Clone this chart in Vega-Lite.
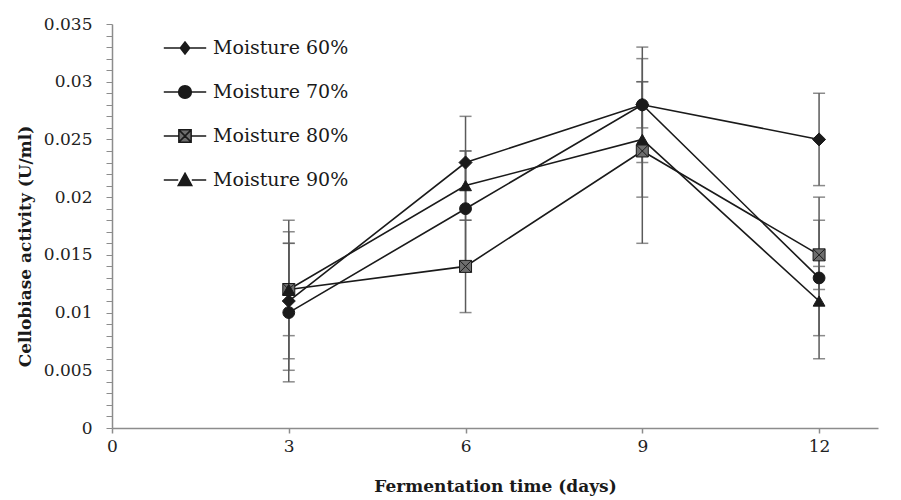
{
  "$schema": "https://vega.github.io/schema/vega-lite/v6.json",
  "width": 766,
  "height": 404,
  "autosize": {"type": "none"},
  "padding": {"left": 112, "top": 24, "right": 23, "bottom": 72},
  "background": "white",
  "config": {
    "view": {"stroke": null},
    "font": "DejaVu Serif",
    "axis": {"grid": false, "labelFont": "DejaVu Serif", "labelFontSize": 17, "labelColor": "#222222", "labelFlush": false, "labelOverlap": false,
      "titleFont": "DejaVu Serif", "titleFontWeight": "bold", "titleFontSize": 17, "titleColor": "#1a1a1a",
      "domainColor": "#8c8c8c", "domainWidth": 1.5, "tickColor": "#8c8c8c"},
    "axisX": {"tickSize": 5, "tickWidth": 1.5, "labelPadding": 5, "titlePadding": 24},
    "axisY": {"tickSize": 6, "tickWidth": 1, "labelPadding": 14, "titlePadding": 9}
  },
  "data": {
    "values": [
      {"series": "Moisture 60%", "day": 3, "value": 0.011, "lo": 0.004, "hi": 0.018},
      {"series": "Moisture 60%", "day": 6, "value": 0.023, "lo": 0.019, "hi": 0.027},
      {"series": "Moisture 60%", "day": 9, "value": 0.028, "lo": 0.023, "hi": 0.033},
      {"series": "Moisture 60%", "day": 12, "value": 0.025, "lo": 0.021, "hi": 0.029},
      {"series": "Moisture 70%", "day": 3, "value": 0.010, "lo": 0.005, "hi": 0.016},
      {"series": "Moisture 70%", "day": 6, "value": 0.019, "lo": 0.014, "hi": 0.024},
      {"series": "Moisture 70%", "day": 9, "value": 0.028, "lo": 0.026, "hi": 0.030},
      {"series": "Moisture 70%", "day": 12, "value": 0.013, "lo": 0.008, "hi": 0.018},
      {"series": "Moisture 80%", "day": 3, "value": 0.012, "lo": 0.008, "hi": 0.016},
      {"series": "Moisture 80%", "day": 6, "value": 0.014, "lo": 0.010, "hi": 0.018},
      {"series": "Moisture 80%", "day": 9, "value": 0.024, "lo": 0.016, "hi": 0.032},
      {"series": "Moisture 80%", "day": 12, "value": 0.015, "lo": 0.012, "hi": 0.020},
      {"series": "Moisture 90%", "day": 3, "value": 0.012, "lo": 0.006, "hi": 0.017},
      {"series": "Moisture 90%", "day": 6, "value": 0.021, "lo": 0.018, "hi": 0.024},
      {"series": "Moisture 90%", "day": 9, "value": 0.025, "lo": 0.020, "hi": 0.030},
      {"series": "Moisture 90%", "day": 12, "value": 0.011, "lo": 0.006, "hi": 0.014}
    ]
  },
  "encoding": {
    "x": {"field": "day", "type": "quantitative", "scale": {"domain": [0, 13], "nice": false},
      "axis": {"values": [0, 3, 6, 9, 12], "format": "d", "title": "Fermentation time (days)"}}
  },
  "layer": [
    {
      "mark": {"type": "rule", "color": "#5a5a5a", "strokeWidth": 1.5},
      "encoding": {
        "y": {"field": "lo", "type": "quantitative", "scale": {"domain": [0, 0.035], "nice": false},
          "axis": {"values": [0, 0.001, 0.002, 0.003, 0.004, 0.005, 0.006, 0.007, 0.008, 0.009, 0.01, 0.011, 0.012, 0.013, 0.014, 0.015, 0.016, 0.017, 0.018, 0.019, 0.02, 0.021, 0.022, 0.023, 0.024, 0.025, 0.026, 0.027, 0.028, 0.029, 0.03, 0.031, 0.032, 0.033, 0.034, 0.035],
            "labelExpr": "round(datum.value*1000) % 5 == 0 ? format(datum.value, '~g') : ''",
            "title": "Cellobiase  activity (U/ml)", "titleY": 222}},
        "y2": {"field": "hi"}
      }
    },
    {
      "mark": {"type": "tick", "orient": "horizontal", "color": "#5a5a5a", "thickness": 1.5, "size": 12},
      "encoding": {
        "y": {"field": "lo", "type": "quantitative",
          "axis": {"values": [0, 0.001, 0.002, 0.003, 0.004, 0.005, 0.006, 0.007, 0.008, 0.009, 0.01, 0.011, 0.012, 0.013, 0.014, 0.015, 0.016, 0.017, 0.018, 0.019, 0.02, 0.021, 0.022, 0.023, 0.024, 0.025, 0.026, 0.027, 0.028, 0.029, 0.03, 0.031, 0.032, 0.033, 0.034, 0.035],
            "labelExpr": "round(datum.value*1000) % 5 == 0 ? format(datum.value, '~g') : ''",
            "title": "Cellobiase  activity (U/ml)", "titleY": 222}}
      }
    },
    {
      "mark": {"type": "tick", "orient": "horizontal", "color": "#5a5a5a", "thickness": 1.5, "size": 12},
      "encoding": {
        "y": {"field": "hi", "type": "quantitative",
          "axis": {"values": [0, 0.001, 0.002, 0.003, 0.004, 0.005, 0.006, 0.007, 0.008, 0.009, 0.01, 0.011, 0.012, 0.013, 0.014, 0.015, 0.016, 0.017, 0.018, 0.019, 0.02, 0.021, 0.022, 0.023, 0.024, 0.025, 0.026, 0.027, 0.028, 0.029, 0.03, 0.031, 0.032, 0.033, 0.034, 0.035],
            "labelExpr": "round(datum.value*1000) % 5 == 0 ? format(datum.value, '~g') : ''",
            "title": "Cellobiase  activity (U/ml)", "titleY": 222}}
      }
    },
    {
      "mark": {"type": "line", "color": "#1a1a1a", "strokeWidth": 1.6},
      "encoding": {
        "y": {"field": "value", "type": "quantitative",
          "axis": {"values": [0, 0.001, 0.002, 0.003, 0.004, 0.005, 0.006, 0.007, 0.008, 0.009, 0.01, 0.011, 0.012, 0.013, 0.014, 0.015, 0.016, 0.017, 0.018, 0.019, 0.02, 0.021, 0.022, 0.023, 0.024, 0.025, 0.026, 0.027, 0.028, 0.029, 0.03, 0.031, 0.032, 0.033, 0.034, 0.035],
            "labelExpr": "round(datum.value*1000) % 5 == 0 ? format(datum.value, '~g') : ''",
            "title": "Cellobiase  activity (U/ml)", "titleY": 222}},
        "detail": {"field": "series"}
      }
    },
    {
      "mark": {"type": "point", "filled": true, "opacity": 1, "stroke": "#1a1a1a", "strokeWidth": 1},
      "encoding": {
        "y": {"field": "value", "type": "quantitative",
          "axis": {"values": [0, 0.001, 0.002, 0.003, 0.004, 0.005, 0.006, 0.007, 0.008, 0.009, 0.01, 0.011, 0.012, 0.013, 0.014, 0.015, 0.016, 0.017, 0.018, 0.019, 0.02, 0.021, 0.022, 0.023, 0.024, 0.025, 0.026, 0.027, 0.028, 0.029, 0.03, 0.031, 0.032, 0.033, 0.034, 0.035],
            "labelExpr": "round(datum.value*1000) % 5 == 0 ? format(datum.value, '~g') : ''",
            "title": "Cellobiase  activity (U/ml)", "titleY": 222}},
        "shape": {"field": "series", "type": "nominal", "legend": null,
          "scale": {"domain": ["Moisture 60%", "Moisture 70%", "Moisture 80%", "Moisture 90%"], "range": ["diamond", "circle", "M-1,-1H1V1H-1ZM-1,-1L1,1M1,-1L-1,1", "triangle-up"]}},
        "fill": {"condition": {"test": "datum.series == 'Moisture 80%'", "value": "#6e6e6e"}, "value": "#1a1a1a"},
        "size": {"condition": [{"test": "datum.series == 'Moisture 60%'", "value": 170}, {"test": "datum.series == 'Moisture 80%'", "value": 144}], "value": 140}
      }
    },
    {
      "transform": [{"filter": "false"}],
      "mark": {"type": "point", "filled": true, "opacity": 1, "stroke": "#1a1a1a", "strokeWidth": 1.5},
      "encoding": {
        "y": {"field": "value", "type": "quantitative",
          "axis": {"values": [0, 0.001, 0.002, 0.003, 0.004, 0.005, 0.006, 0.007, 0.008, 0.009, 0.01, 0.011, 0.012, 0.013, 0.014, 0.015, 0.016, 0.017, 0.018, 0.019, 0.02, 0.021, 0.022, 0.023, 0.024, 0.025, 0.026, 0.027, 0.028, 0.029, 0.03, 0.031, 0.032, 0.033, 0.034, 0.035],
            "labelExpr": "round(datum.value*1000) % 5 == 0 ? format(datum.value, '~g') : ''",
            "title": "Cellobiase  activity (U/ml)", "titleY": 222}},
        "shape": {"field": "series", "type": "nominal",
          "scale": {"domain": ["Moisture 60%", "Moisture 70%", "Moisture 80%", "Moisture 90%"],
            "range": ["M-1,0H-0.22M0.22,0H1M0,-0.28L0.22,0L0,0.28L-0.22,0Z", "M-1,0H-0.3M0.3,0H1M-0.3,0A0.3,0.3 0 1,0 0.3,0A0.3,0.3 0 1,0 -0.3,0Z", "M-1,0H-0.29M0.29,0H1M-0.29,-0.29H0.29V0.29H-0.29ZM-0.29,-0.29L0.29,0.29M0.29,-0.29L-0.29,0.29", "M-1,0H-0.32M0.32,0H1M0,-0.32L0.32,0.26L-0.32,0.26Z"]},
          "legend": {"title": null, "orient": "none", "legendX": 51, "legendY": 2, "padding": 0, "rowPadding": 12,
            "symbolSize": 1800, "symbolStrokeColor": "#1a1a1a", "symbolStrokeWidth": 1.5,
            "labelFont": "DejaVu Serif", "labelFontSize": 19, "labelColor": "#1a1a1a", "labelOffset": 6}},
        "color": {"field": "series", "type": "nominal",
          "scale": {"domain": ["Moisture 60%", "Moisture 70%", "Moisture 80%", "Moisture 90%"], "range": ["#1a1a1a", "#1a1a1a", "#6e6e6e", "#1a1a1a"]},
          "legend": {"title": null, "orient": "none", "legendX": 51, "legendY": 2, "padding": 0, "rowPadding": 12,
            "symbolSize": 1800, "symbolStrokeColor": "#1a1a1a", "symbolStrokeWidth": 1.5,
            "labelFont": "DejaVu Serif", "labelFontSize": 19, "labelColor": "#1a1a1a", "labelOffset": 6}}
      }
    }
  ],
  "resolve": {"scale": {"shape": "independent", "color": "independent"}}
}
